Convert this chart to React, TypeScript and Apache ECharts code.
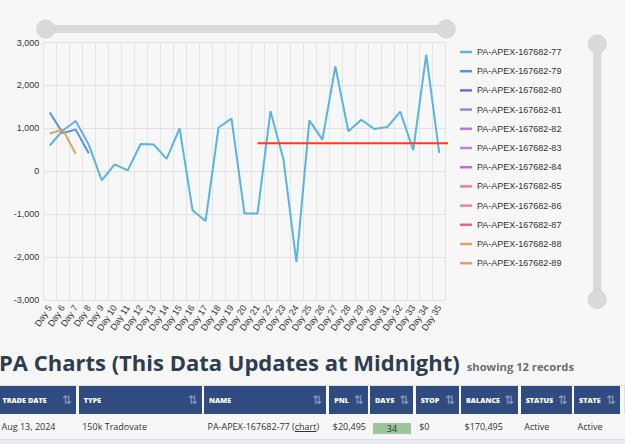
import React, { useEffect, useRef } from "react";
import * as echarts from "echarts";

const days = [
  "Day 5", "Day 6", "Day 7", "Day 8", "Day 9", "Day 10", "Day 11", "Day 12", "Day 13", "Day 14",
  "Day 15", "Day 16", "Day 17", "Day 18", "Day 19", "Day 20", "Day 21", "Day 22", "Day 23", "Day 24",
  "Day 25", "Day 26", "Day 27", "Day 28", "Day 29", "Day 30", "Day 31", "Day 32", "Day 33", "Day 34", "Day 35",
];

const seriesNames = [
  "PA-APEX-167682-77", "PA-APEX-167682-79", "PA-APEX-167682-80", "PA-APEX-167682-81",
  "PA-APEX-167682-82", "PA-APEX-167682-83", "PA-APEX-167682-84", "PA-APEX-167682-85",
  "PA-APEX-167682-86", "PA-APEX-167682-87", "PA-APEX-167682-88", "PA-APEX-167682-89",
];

const seriesColors = [
  "#5ab4e0", "#5b8fe0", "#7b68e0", "#8a93cc", "#b27bd9", "#c27ee0",
  "#c06bd8", "#e8809a", "#e0879a", "#e06690", "#e0a060", "#dda070",
];

const pnl77 = [
  600, 950, 1170, 620, -210, 160, 20, 635, 625, 290,
  1000, -910, -1160, 1020, 1225, -985, -985, 1400, 280, -2120,
  1186, 737, 2440, 930, 1200, 985, 1030, 1388, 490, 2720, 426,
];
const pnl79 = [1370, 890, 970, 420];
const pnl88 = [880, 970, 410];
const noData: number[] = [];

const seriesData = [pnl77, pnl79, noData, noData, noData, noData, noData, noData, noData, noData, pnl88, noData];

// target line: from category index (Day 21) to one step past the last day
const targetLine = [[16, 650], [31, 650]];

const yMin = -3000;
const yMax = 3000;
const yInterval = 1000;

const columns = ["TRADE DATE", "TYPE", "NAME", "PNL", "DAYS", "STOP", "BALANCE", "STATUS", "STATE"];
const colLefts = [-3, 78.7, 204, 329.3, 370, 415.7, 461, 520.7, 574];
const colRights = [76, 201.7, 326.3, 367.7, 413.3, 459, 518.3, 571.7, 620];
const rowValues = ["Aug 13, 2024", "150k Tradovate", "PA-APEX-167682-77", "$20,495", "34", "$0", "$170,495", "Active", "Active"];

function Chart() {
  const ref = useRef<HTMLDivElement>(null);
  useEffect(() => {
    if (!ref.current) return;
    const chart = echarts.init(ref.current, null, { renderer: "svg" });
    const lineSeries: any[] = seriesNames.map((name, i) => ({
      name,
      type: "line",
      data: seriesData[i],
      symbol: "none",
      showSymbol: false,
      lineStyle: { width: 2, color: seriesColors[i] },
      itemStyle: { color: seriesColors[i] },
      xAxisIndex: 0,
      yAxisIndex: 0,
    }));
    lineSeries.push({
      type: "line",
      xAxisIndex: 1,
      yAxisIndex: 0,
      data: targetLine,
      symbol: "none",
      clip: false,
      lineStyle: { width: 2, color: "#ff3b1c" },
      z: 5,
    });
    chart.setOption({
      animation: false,
      backgroundColor: "transparent",
      color: seriesColors,
      textStyle: { fontFamily: "Liberation Sans, Arial, sans-serif" },
      grid: { left: 43.3, right: 179.3, top: 42.5, bottom: 40, containLabel: false },
      legend: {
        data: seriesNames,
        orient: "vertical",
        left: 460,
        top: 47,
        padding: 0,
        icon: "rect",
        itemWidth: 12,
        itemHeight: 2.5,
        itemGap: 9.2,
        textStyle: { fontSize: 9, color: "#333", lineHeight: 10 },
      },
      xAxis: [
        {
          type: "category",
          data: days,
          boundaryGap: true,
          axisLine: { show: false },
          axisTick: { show: false },
          splitLine: { show: true, lineStyle: { color: "#e4e4e4" } },
          axisLabel: { interval: 0, rotate: 57, fontSize: 9, color: "#333", margin: 6 },
        },
        {
          type: "value",
          min: -0.5,
          max: 30.5,
          show: false,
          splitLine: { show: false },
        },
      ],
      yAxis: {
        type: "value",
        min: yMin,
        max: yMax,
        interval: yInterval,
        axisLine: { show: false },
        axisTick: { show: false },
        splitLine: { lineStyle: { color: "#e0e0e0" } },
        axisLabel: { fontSize: 9, color: "#333", margin: 4 },
      },
      dataZoom: [
        {
          type: "slider",
          xAxisIndex: 0,
          left: 43.3,
          right: 179.3,
          top: 25,
          height: 8,
          start: 0,
          end: 100,
          showDetail: false,
          showDataShadow: false,
          brushSelect: false,
          moveHandleSize: 0,
          backgroundColor: "#dadada",
          borderColor: "transparent",
          fillerColor: "#d9d9d9",
          handleIcon: "circle",
          handleSize: "225%",
          handleStyle: { color: "#dadada", borderColor: "#d2d2d2", borderWidth: 1 },
          filterMode: "filter",
        },
        {
          type: "slider",
          yAxisIndex: 0,
          right: 24.3,
          width: 8,
          top: 42.5,
          bottom: 40,
          start: 0,
          end: 100,
          showDetail: false,
          showDataShadow: false,
          brushSelect: false,
          moveHandleSize: 0,
          backgroundColor: "#dadada",
          borderColor: "transparent",
          fillerColor: "#d9d9d9",
          handleIcon: "circle",
          handleSize: "225%",
          handleStyle: { color: "#dadada", borderColor: "#d2d2d2", borderWidth: 1 },
          filterMode: "none",
        },
      ],
      series: lineSeries,
    });
    return () => chart.dispose();
  }, []);
  return <div ref={ref} style={{ position: "absolute", left: 0, top: 0, width: 625, height: 340 }} />;
}

export default function App() {
  const baseFont = "'Open Sans', sans-serif";
  return (
    <div
      style={{
        position: "absolute",
        left: 0,
        top: 0,
        width: 625,
        height: 444,
        overflow: "hidden",
        background: "#f7f7f7",
        fontFamily: baseFont,
      }}
    >
      <Chart />
      <div
        style={{
          position: "absolute",
          left: -1,
          top: 347,
          whiteSpace: "nowrap",
          display: "flex",
          alignItems: "baseline",
        }}
      >
        <span style={{ fontSize: 22, fontWeight: 700, color: "#2d3e50" }}>
          PA Charts (This Data Updates at Midnight)
        </span>
        <span style={{ fontSize: 11.2, fontWeight: 700, color: "#6a6f76", marginLeft: 7 }}>showing 12 records</span>
      </div>
      <div
        style={{
          position: "absolute",
          left: -5,
          top: 385,
          width: 629,
          height: 60,
          borderTop: "1px solid #dde1e6",
          borderRight: "1px solid #dde1e6",
        }}
      />
      {columns.map((c, i) => (
        <div
          key={c}
          style={{
            position: "absolute",
            left: colLefts[i],
            top: 386,
            width: colRights[i] - colLefts[i],
            height: 28,
            background: "#2f4b7f",
            color: "#fff",
            boxSizing: "border-box",
            display: "flex",
            alignItems: "center",
            justifyContent: "space-between",
            paddingLeft: i === 0 ? 5.5 : 5,
            paddingRight: 4,
            fontSize: 7.2,
            fontWeight: 800,
            whiteSpace: "nowrap",
          }}
        >
          <span>{c}</span>
          <span style={{ fontFamily: "'DejaVu Sans', sans-serif", fontSize: 12, color: "#8fa4c6", fontWeight: 400 }}>⇅</span>
        </div>
      ))}
      <div style={{ position: "absolute", left: 0, top: 414, width: 625, height: 25, background: "#f7f7f7" }} />
      {rowValues.map((v, i) => {
        const isDays = i === 4;
        const isName = i === 2;
        return (
          <div
            key={i}
            style={{
              position: "absolute",
              left: isDays ? 373.3 : colLefts[i] + (i === 0 ? 4.5 : 3.5),
              top: isDays ? 422.7 : 420,
              width: isDays ? 37.4 : undefined,
              height: isDays ? 11.5 : undefined,
              background: isDays ? "#9cc59b" : undefined,
              textAlign: isDays ? "center" : undefined,
              lineHeight: isDays ? "11.5px" : "14px",
              fontSize: 9,
              color: "#333",
              whiteSpace: "nowrap",
            }}
          >
            {v}
            {isName ? (
              <>
                {" ("}
                <span style={{ textDecoration: "underline" }}>chart</span>
                {")"}
              </>
            ) : null}
          </div>
        );
      })}
      <div style={{ position: "absolute", left: 0, top: 439, width: 625, height: 5, background: "#e7ebf1", borderTop: "1px solid #d9dee5" }} />
    </div>
  );
}
